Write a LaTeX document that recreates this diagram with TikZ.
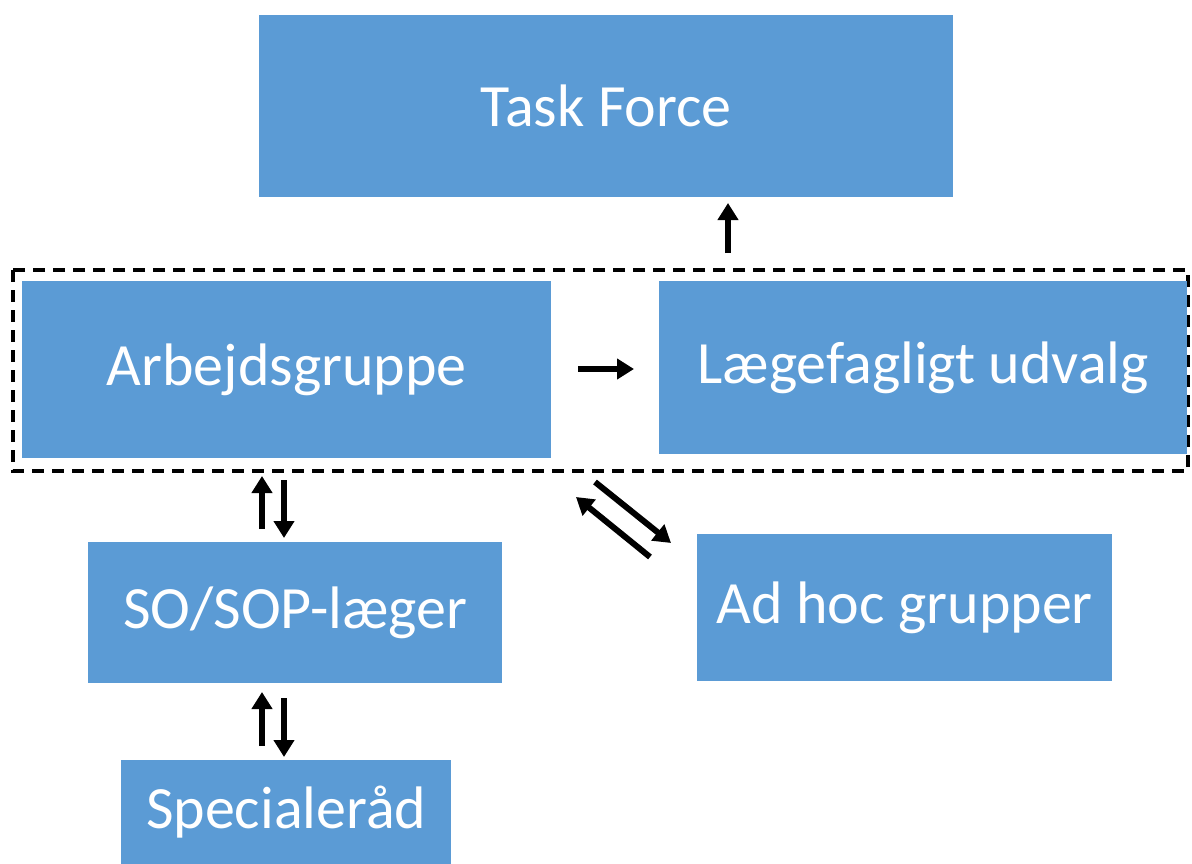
\documentclass[tikz,border=0pt]{standalone}
\usepackage{fontspec}
\setmainfont{Carlito}
\usetikzlibrary{arrows.meta}
\definecolor{boxblue}{HTML}{5B9BD5}
\begin{document}
\begin{tikzpicture}[x=1pt,y=-1pt,
  blk/.style={fill=boxblue,draw=none,text=white,font=\fontsize{60}{62}\selectfont,inner sep=0pt,anchor=north west},
  arr/.style={line width=6pt,-{Triangle[width=20pt,length=17pt]}},
  grp/.style={draw=black,line width=3.5pt,dash pattern=on 12pt off 8pt}]
\useasboundingbox (0,0) rectangle (1192,864);
\clip (0,0) rectangle (1192,864);
\node[blk,minimum width=694pt,minimum height=182pt] (tf) at (259,15) {Task Force};
\draw[grp] (13,270) rectangle (1188,471);
\node[blk,minimum width=529pt,minimum height=177pt] (ag) at (22,281) {Arbejdsgruppe};
\node[blk,minimum width=528pt,minimum height=173pt] (lu) at (659,281) {Lægefagligt udvalg};
\node[blk,minimum width=414pt,minimum height=141pt] (so) at (88,542) {SO/SOP-læger};
\node[blk,minimum width=415pt,minimum height=147pt] (ah) at (697,534) {Ad hoc grupper};
\node[blk,minimum width=330pt,minimum height=104pt] (sr) at (121,760) {Specialeråd};
% arrow end points
\coordinate (r1) at (578,369); \coordinate (r2) at (634,369);
\coordinate (u1) at (728,253); \coordinate (u2) at (728,203);
\coordinate (a1) at (262,529); \coordinate (a2) at (262,476);
\coordinate (b1) at (284,480); \coordinate (b2) at (284,538);
\coordinate (c1) at (262,746); \coordinate (c2) at (262,692);
\coordinate (d1) at (284,698); \coordinate (d2) at (284,757);
\coordinate (e1) at (595,482); \coordinate (e2) at (671,543);
\coordinate (f1) at (650,557); \coordinate (f2) at (576,497);
\draw[arr] (r1) -- (r2);
\draw[arr] (u1) -- (u2);
\draw[arr] (a1) -- (a2);
\draw[arr] (b1) -- (b2);
\draw[arr] (c1) -- (c2);
\draw[arr] (d1) -- (d2);
\draw[arr] (e1) -- (e2);
\draw[arr] (f1) -- (f2);
\end{tikzpicture}
\end{document}
